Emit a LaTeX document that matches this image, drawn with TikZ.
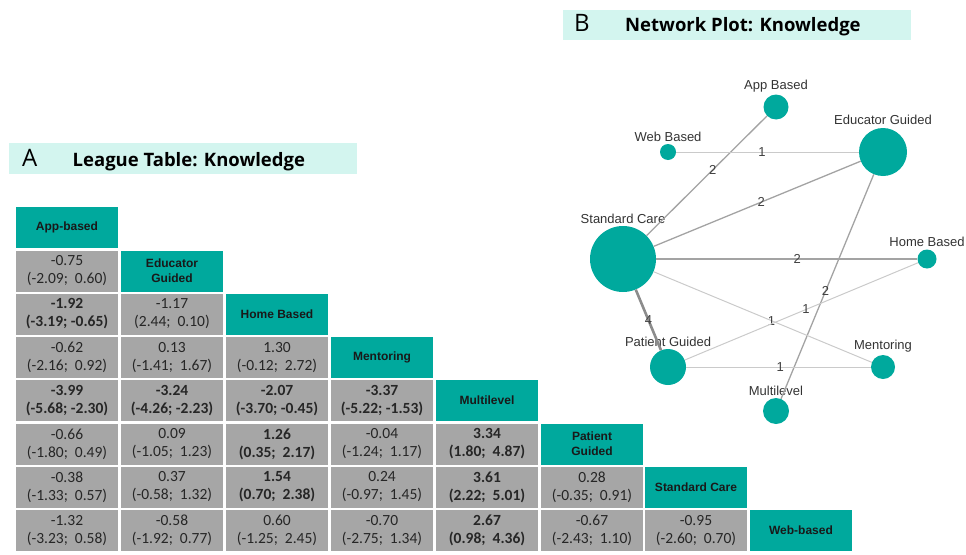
\documentclass[tikz,border=0pt]{standalone}
\usepackage{fontspec}
\setmainfont{Liberation Sans}
\newfontfamily\cellfont{Carlito}
\newfontfamily\titlefont{Open Sans}
\usetikzlibrary{positioning}
\definecolor{leagueteal}{HTML}{00A99D}
\definecolor{cellgray}{HTML}{A6A6A6}
\definecolor{titlebg}{HTML}{D3F5EF}
\definecolor{edgedark}{HTML}{A3A3A3}
\definecolor{edgelight}{HTML}{CACACA}
\tikzset{
	titlebar/.style={fill=titlebg, inner sep=0pt, anchor=north west},
	panelletter/.style={anchor=base west, inner sep=0pt, font=\titlefont\fontsize{24}{24}\selectfont},
	paneltitle/.style={anchor=base west, inner sep=0pt, font=\titlefont\bfseries\fontsize{18.5}{20}\selectfont},
	hdr/.style={fill=leagueteal, minimum width=102pt, minimum height=41pt, inner sep=0pt, align=center, text=black!90, font=\bfseries\fontsize{12}{15}\selectfont},
	est/.style={fill=cellgray, minimum width=102pt, minimum height=41pt, inner sep=0pt, align=center, text=black!85, font=\cellfont\fontsize{15.5}{18}\selectfont},
	estb/.style={est, font=\cellfont\bfseries\fontsize{15.5}{18}\selectfont},
	netnode/.style={circle, fill=leagueteal, inner sep=0pt},
	netlbl/.style={inner sep=0pt, text=black!80, font=\fontsize{13}{13}\selectfont},
	wone/.style={draw=edgelight, line width=1pt},
	wtwo/.style={draw=edgedark, line width=1.3pt},
	wfour/.style={draw=black!45, line width=2.6pt},
	elbl/.style={inner sep=0pt, text=black!75, font=\fontsize{13}{13}\selectfont}
}
\begin{document}
\begin{tikzpicture}[x=1pt, y=-1pt]
	\useasboundingbox (0,0) rectangle (966,554);
	\node[titlebar, minimum width=348pt, minimum height=30.5pt] (bara) at (8.5,142.8) {};
	\node[panelletter] (lettera) at (22,166) {A};
	\node[paneltitle] (titlea) at (72.5,166) {League Table: Knowledge};
	\node[titlebar, minimum width=348pt, minimum height=30.5pt] (barb) at (563,9.5) {};
	\node[panelletter] (letterb) at (574,31) {B};
	\node[paneltitle] (titleb) at (625,31) {Network Plot: Knowledge};

	\node[hdr] (happ) at (67,227.5) {App-based};
	\node[hdr] (hedu) at (172,271) {Educator\\Guided};
	\node[hdr] (hhome) at (277,314) {Home Based};
	\node[hdr] (hment) at (382,357.5) {Mentoring};
	\node[hdr] (hmulti) at (487,400.5) {Multilevel};
	\node[hdr] (hpat) at (592,444) {Patient\\Guided};
	\node[hdr] (hstd) at (696,487) {Standard Care};
	\node[hdr] (hweb) at (801,530.5) {Web-based};

	\node[est] (c10) at (67,271) {-0.75\\(-2.09;~ 0.60)};
	\node[estb] (c20) at (67,314) {-1.92\\(-3.19; -0.65)};
	\node[est] (c21) at (172,314) {-1.17\\(2.44;~ 0.10)};
	\node[est] (c30) at (67,357.5) {-0.62\\(-2.16;~ 0.92)};
	\node[est] (c31) at (172,357.5) {0.13\\(-1.41;~ 1.67)};
	\node[est] (c32) at (277,357.5) {1.30\\(-0.12;~ 2.72)};
	\node[estb] (c40) at (67,400.5) {-3.99\\(-5.68; -2.30)};
	\node[estb] (c41) at (172,400.5) {-3.24\\(-4.26; -2.23)};
	\node[estb] (c42) at (277,400.5) {-2.07\\(-3.70; -0.45)};
	\node[estb] (c43) at (382,400.5) {-3.37\\(-5.22; -1.53)};
	\node[est] (c50) at (67,444) {-0.66\\(-1.80;~ 0.49)};
	\node[est] (c51) at (172,444) {0.09\\(-1.05;~ 1.23)};
	\node[estb] (c52) at (277,444) {1.26\\(0.35;~ 2.17)};
	\node[est] (c53) at (382,444) {-0.04\\(-1.24;~ 1.17)};
	\node[estb] (c54) at (487,444) {3.34\\(1.80;~ 4.87)};
	\node[est] (c60) at (67,487) {-0.38\\(-1.33;~ 0.57)};
	\node[est] (c61) at (172,487) {0.37\\(-0.58;~ 1.32)};
	\node[estb] (c62) at (277,487) {1.54\\(0.70;~ 2.38)};
	\node[est] (c63) at (382,487) {0.24\\(-0.97;~ 1.45)};
	\node[estb] (c64) at (487,487) {3.61\\(2.22;~ 5.01)};
	\node[est] (c65) at (592,487) {0.28\\(-0.35;~ 0.91)};
	\node[est] (c70) at (67,530.5) {-1.32\\(-3.23;~ 0.58)};
	\node[est] (c71) at (172,530.5) {-0.58\\(-1.92;~ 0.77)};
	\node[est] (c72) at (277,530.5) {0.60\\(-1.25;~ 2.45)};
	\node[est] (c73) at (382,530.5) {-0.70\\(-2.75;~ 1.34)};
	\node[estb] (c74) at (487,530.5) {2.67\\(0.98;~ 4.36)};
	\node[est] (c75) at (592,530.5) {-0.67\\(-2.43;~ 1.10)};
	\node[est] (c76) at (696,530.5) {-0.95\\(-2.60;~ 0.70)};

	\node[netnode, minimum size=25pt] (app) at (776,107) {};
	\node[netnode, minimum size=48pt] (edu) at (883,152) {};
	\node[netnode, minimum size=16pt] (web) at (668,152) {};
	\node[netnode, minimum size=66pt] (std) at (623,259) {};
	\node[netnode, minimum size=19pt] (home) at (927,259) {};
	\node[netnode, minimum size=36pt] (pat) at (668,367) {};
	\node[netnode, minimum size=24pt] (ment) at (883,367) {};
	\node[netnode, minimum size=26pt] (multi) at (776,411) {};
	\node[netlbl, above=2pt of app] (lapp) {App Based};
	\node[netlbl, above=3pt of edu] (ledu) {Educator Guided};
	\node[netlbl, above=2pt of web] (lweb) {Web Based};
	\node[netlbl, above=2pt of std] (lstd) {Standard Care};
	\node[netlbl, above=2pt of home] (lhome) {Home Based};
	\node[netlbl, above=2pt of pat] (lpat) {Patient Guided};
	\node[netlbl, above=2pt of ment] (lment) {Mentoring};
	\node[netlbl, above=2pt of multi] (lmulti) {Multilevel};

	\draw[wtwo] (std) -- node[elbl, pos=0.55] {2} (app);
	\draw[wone] (web) -- node[elbl, pos=0.47] {1} (edu);
	\draw[wtwo] (std) -- node[elbl, pos=0.52] {2} (edu);
	\draw[wtwo] (std) -- node[elbl, pos=0.54] {2} (home);
	\draw[wtwo] (edu) -- node[elbl, pos=0.52] {2} (multi);
	\draw[wone] (std) -- node[elbl, pos=0.54] {1} (ment);
	\draw[wone] (pat) -- node[elbl, pos=0.52] {1} (home);
	\draw[wfour] (std) -- node[elbl, pos=0.5] {4} (pat);
	\draw[wone] (pat) -- node[elbl, pos=0.51] {1} (ment);
\end{tikzpicture}
\end{document}
